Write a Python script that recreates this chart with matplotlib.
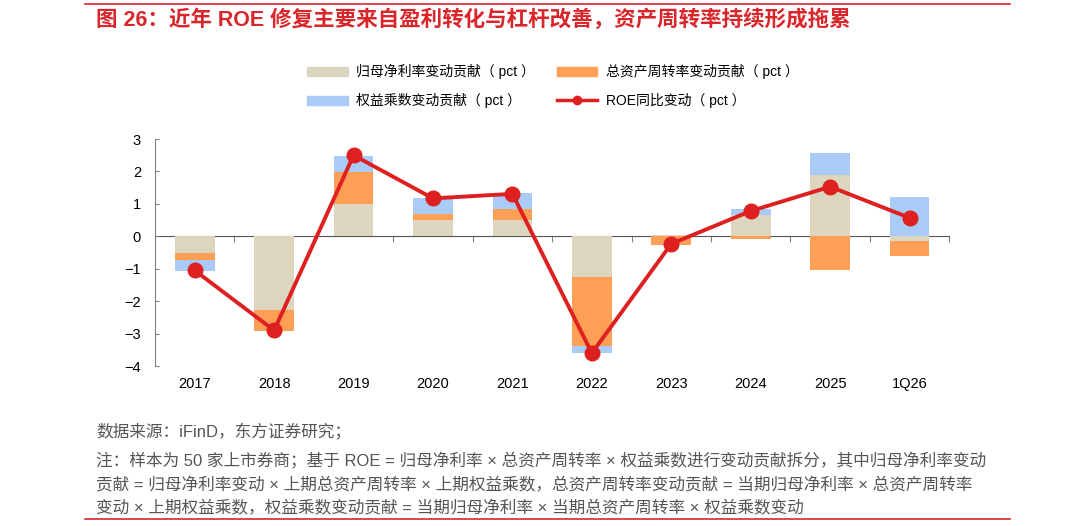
import matplotlib
matplotlib.use("Agg")
import matplotlib.pyplot as plt
from matplotlib.lines import Line2D
from matplotlib.patches import Patch
import numpy as np

plt.rcParams['font.family'] = ['Liberation Sans', 'Noto Sans CJK SC', 'DejaVu Sans']

# data (pct)
periods = ["2017", "2018", "2019", "2020", "2021", "2022", "2023", "2024", "2025", "1Q26"]
margin_contrib = [-0.52, -2.26, 0.99, 0.49, 0.50, -1.24, 0.03, 0.65, 1.90, -0.15]
turnover_contrib = [-0.20, -0.65, 0.98, 0.19, 0.33, -2.15, -0.28, -0.07, -1.03, -0.47]
leverage_contrib = [-0.34, -0.02, 0.52, 0.50, 0.50, -0.22, 0.02, 0.19, 0.66, 1.21]
roe_change = [-1.05, -2.90, 2.50, 1.17, 1.31, -3.60, -0.23, 0.78, 1.53, 0.57]

series_names = ["归母净利率变动贡献（ pct ）", "总资产周转率变动贡献（ pct ）",
                "权益乘数变动贡献（ pct ）", "ROE同比变动（ pct ）"]
title = "图 26：近年 ROE 修复主要来自盈利转化与杠杆改善，资产周转率持续形成拖累"
source = "数据来源：iFinD，东方证券研究；"
note = ("注：样本为 50 家上市券商；基于 ROE = 归母净利率 × 总资产周转率 × 权益乘数进行变动贡献拆分，其中归母净利率变动\n"
        "贡献 = 归母净利率变动 × 上期总资产周转率 × 上期权益乘数，总资产周转率变动贡献 = 当期归母净利率 × 总资产周转率\n"
        "变动 × 上期权益乘数，权益乘数变动贡献 = 当期归母净利率 × 当期总资产周转率 × 权益乘数变动")

c_margin = "#DDD6BF"
c_turn = "#FF9F55"
c_lev = "#A9CBF7"
c_roe = "#DE2020"
red = "#D9262B"

fig = plt.figure(figsize=(10.8, 5.26), dpi=100)
ax = fig.add_axes([0.1435, 0.304, 0.7355, 0.4317])

x = np.arange(len(periods))
w = 0.5
pos_base = np.zeros(len(periods))
neg_base = np.zeros(len(periods))
for vals, col in [(margin_contrib, c_margin), (turnover_contrib, c_turn), (leverage_contrib, c_lev)]:
    v = np.array(vals)
    bottoms = np.where(v >= 0, pos_base, neg_base)
    ax.bar(x, v, w, bottom=bottoms, color=col, zorder=2)
    pos_base += np.where(v >= 0, v, 0)
    neg_base += np.where(v < 0, v, 0)

ax.plot(x, roe_change, color=c_roe, lw=2.8, marker="o", ms=10.5, zorder=4)

ax.set_xlim(-0.5, len(periods) - 0.5)
ax.set_ylim(-4, 3)
ax.set_yticks(range(-4, 4))
ax.tick_params(axis="y", direction="in", length=3, color="#808080", labelsize=10.5, pad=10)
ax.set_xticks(x)
ax.set_xticklabels(periods)
ax.tick_params(axis="x", length=0, labelsize=10.5, pad=8)
for s in ["top", "right", "bottom"]:
    ax.spines[s].set_visible(False)
ax.spines["left"].set_color("#808080")

# zero line with category boundary ticks
zax = ax.secondary_xaxis(4 / 7)
zax.set_xticks(np.arange(0.5, len(periods), 1.0))
zax.tick_params(axis="x", direction="in", length=4, color="#808080", labelbottom=False, labeltop=False)
zax.spines["bottom"].set_color("#555555")
zax.spines["top"].set_color("#555555")

handles = [Patch(color=c_margin), Patch(color=c_turn), Patch(color=c_lev),
           Line2D([], [], color=c_roe, lw=2.5, marker="o", ms=6)]
order = [0, 2, 1, 3]
fig.legend([handles[i] for i in order], [series_names[i] for i in order],
           loc="upper left", bbox_to_anchor=(0.273, 0.902), ncol=2, frameon=False,
           fontsize=10, handlelength=2.9, handleheight=0.6, columnspacing=1.6,
           labelspacing=1.0, handletextpad=0.6)

fig.add_artist(Line2D([0.079, 0.935], [0.992, 0.992], color=red, lw=1.2))
fig.text(0.089, 0.962, title, color=red, fontsize=15.5, fontweight="bold", va="center")

fig.text(0.089, 0.18, source, color="#555555", fontsize=12, va="center")
fig.text(0.089, 0.14, note, color="#555555", fontsize=12, va="top", linespacing=1.55)
fig.add_artist(Line2D([0.079, 0.935], [0.013, 0.013], color=red, lw=1.2))

fig.savefig("out.png", dpi=100)
